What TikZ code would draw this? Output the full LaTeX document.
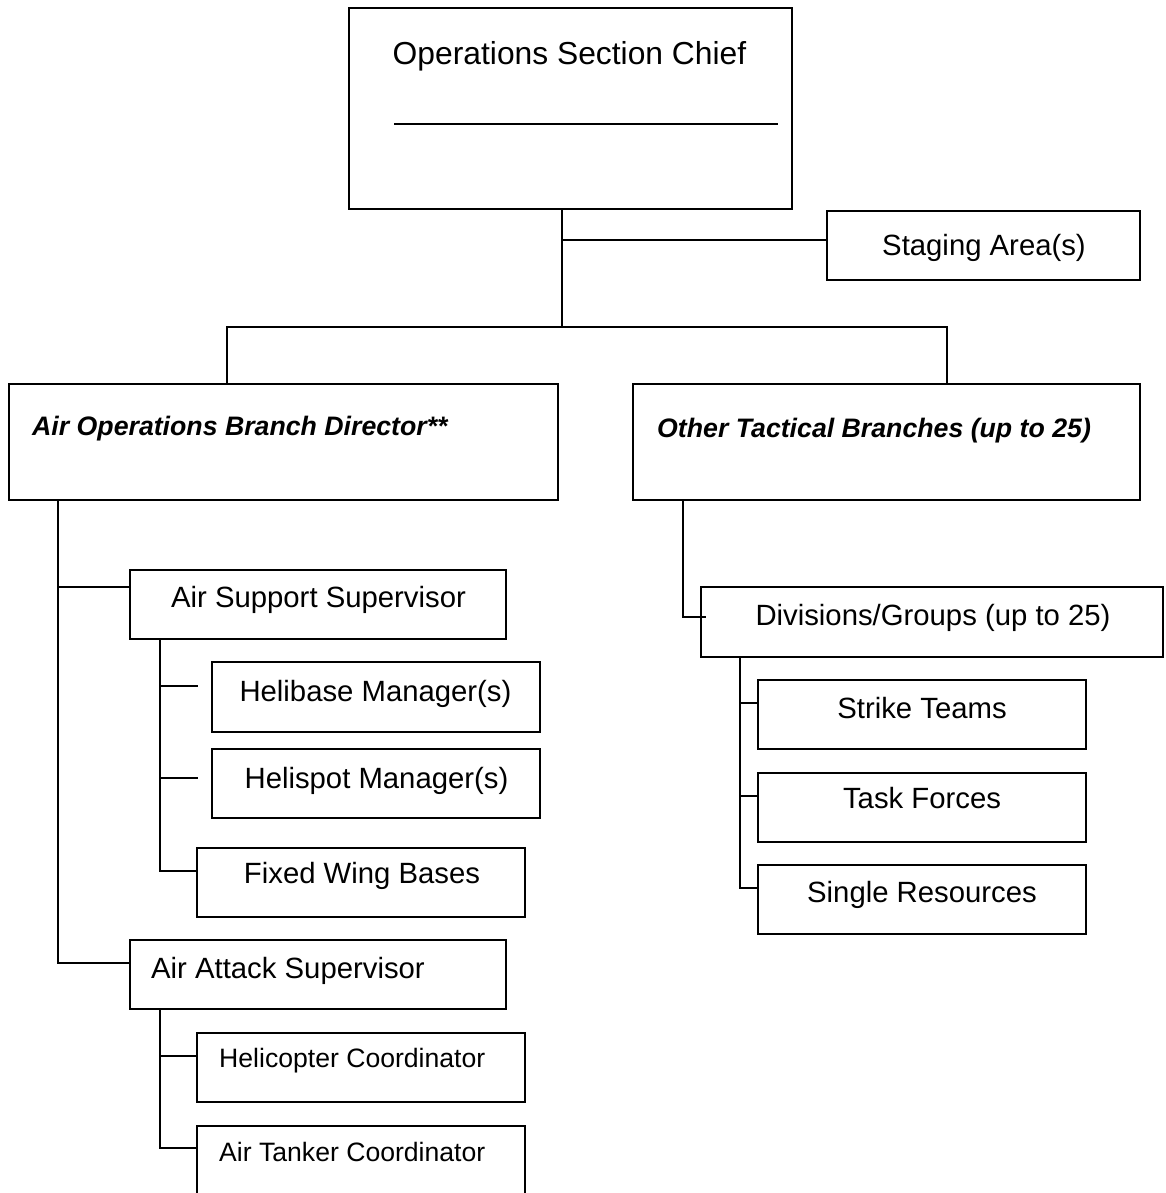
\documentclass[tikz,border=0pt]{standalone}
\usepackage{fontspec}
\setmainfont{Liberation Sans}
\begin{document}
\begin{tikzpicture}[x=1pt, y=-1pt,
  box/.style={draw=black, line width=1.5pt, rectangle, inner sep=0pt},
  conn/.style={draw=black, line width=1.4pt},
  lbl/.style={inner sep=0pt, font=\fontsize{29.3}{35}\selectfont},
  biglbl/.style={inner sep=0pt, font=\fontsize{31.8}{38}\selectfont},
  headlbl/.style={inner sep=0pt, font=\fontsize{26.7}{32}\selectfont\bfseries\itshape},
  smalllbl/.style={inner sep=0pt, font=\fontsize{26.6}{32}\selectfont}]
\useasboundingbox (0,0) rectangle (1165,1193);
\clip (0,0) rectangle (1165,1193);

% ---- boxes ----
\node[box, minimum width=443pt, minimum height=201pt] (osc) at (570.5,108.5) {};
\node[box, minimum width=313pt, minimum height=69pt]  (stg) at (983.5,245.5) {};
\node[box, minimum width=549pt, minimum height=116pt] (aobd) at (283.5,442) {};
\node[box, minimum width=507pt, minimum height=116pt] (otb) at (886.5,442) {};
\node[box, minimum width=376pt, minimum height=69pt]  (ass) at (318,604.5) {};
\node[box, minimum width=328pt, minimum height=70pt]  (heb) at (376,697) {};
\node[box, minimum width=328pt, minimum height=69pt]  (hsp) at (376,783.5) {};
\node[box, minimum width=328pt, minimum height=69pt]  (fwb) at (361,882.5) {};
\node[box, minimum width=376pt, minimum height=69pt]  (aas) at (318,974.5) {};
\node[box, minimum width=328pt, minimum height=69pt]  (hco) at (361,1067.5) {};
\node[box, minimum width=328pt, minimum height=89pt]  (atc) at (361,1170.5) {};
\node[box, minimum width=462pt, minimum height=70pt]  (div) at (932,622) {};
\node[box, minimum width=328pt, minimum height=69pt]  (stk) at (922,714.5) {};
\node[box, minimum width=328pt, minimum height=69pt]  (tsk) at (922,807.5) {};
\node[box, minimum width=328pt, minimum height=69pt]  (sgl) at (922,899.5) {};

% ---- labels ----
\node[biglbl, anchor=base] (t-osc) at (569.5,65) {Operations Section Chief};
\draw[line width=1.4pt] (394,124) -- (778,124);
\node[lbl, anchor=base] (t-stg) at (984,255) {Staging Area(s)};
\node[headlbl, anchor=base west] (t-aobd) at (32,435) {Air Operations Branch Director**};
\node[headlbl, anchor=base west] (t-otb) at (657,437) {Other Tactical Branches (up to 25)};
\node[lbl, anchor=base] (t-ass) at (318.5,607) {Air Support Supervisor};
\node[lbl, anchor=base] (t-heb) at (375.5,701) {Helibase Manager(s)};
\node[lbl, anchor=base] (t-hsp) at (376.5,788) {Helispot Manager(s)};
\node[lbl, anchor=base] (t-fwb) at (362,883) {Fixed Wing Bases};
\node[lbl, anchor=base west] (t-aas) at (151,978) {Air Attack Supervisor};
\node[smalllbl, anchor=base west] (t-hco) at (219,1067) {Helicopter Coordinator};
\node[smalllbl, anchor=base west] (t-atc) at (219,1161) {Air Tanker Coordinator};
\node[lbl, anchor=base] (t-div) at (933,625) {Divisions/Groups (up to 25)};
\node[lbl, anchor=base] (t-stk) at (922,718) {Strike Teams};
\node[lbl, anchor=base] (t-tsk) at (922,808) {Task Forces};
\node[lbl, anchor=base] (t-sgl) at (922,902) {Single Resources};

% ---- junction points ----
\coordinate (stgtee) at (562,240);
\coordinate (busmid) at (562,327);
\coordinate (busL) at (227,327);
\coordinate (busR) at (947,327);
\coordinate (asstee) at (58,587);
\coordinate (aastee) at (58,963);
\coordinate (hebtee) at (160,686);
\coordinate (hebend) at (198,686);
\coordinate (hsptee) at (160,778);
\coordinate (hspend) at (198,778);
\coordinate (fwbtee) at (160,871);
\coordinate (hcotee) at (160,1056);
\coordinate (atctee) at (160,1148);
\coordinate (divtee) at (683,617);
\coordinate (divend) at (706,617);
\coordinate (stktee) at (740,703);
\coordinate (tsktee) at (740,796);
\coordinate (sgltee) at (740,888);

% ---- connectors ----
\draw[conn] (osc.south -| busmid) -- (busmid);
\draw[conn] (stgtee) -- (stgtee -| stg.west);
\draw[conn] (busL |- aobd.north) -- (busL) -- (busR) -- (busR |- otb.north);

\draw[conn] (aobd.south -| aastee) -- (aastee) -- (aastee -| aas.west);
\draw[conn] (asstee) -- (asstee -| ass.west);

\draw[conn] (ass.south -| fwbtee) -- (fwbtee) -- (fwbtee -| fwb.west);
\draw[conn] (hebtee) -- (hebend);
\draw[conn] (hsptee) -- (hspend);

\draw[conn] (aas.south -| atctee) -- (atctee) -- (atctee -| atc.west);
\draw[conn] (hcotee) -- (hcotee -| hco.west);

\draw[conn] (otb.south -| divtee) -- (divtee) -- (divend);
\draw[conn] (div.south -| sgltee) -- (sgltee) -- (sgltee -| sgl.west);
\draw[conn] (stktee) -- (stktee -| stk.west);
\draw[conn] (tsktee) -- (tsktee -| tsk.west);
\end{tikzpicture}
\end{document}
